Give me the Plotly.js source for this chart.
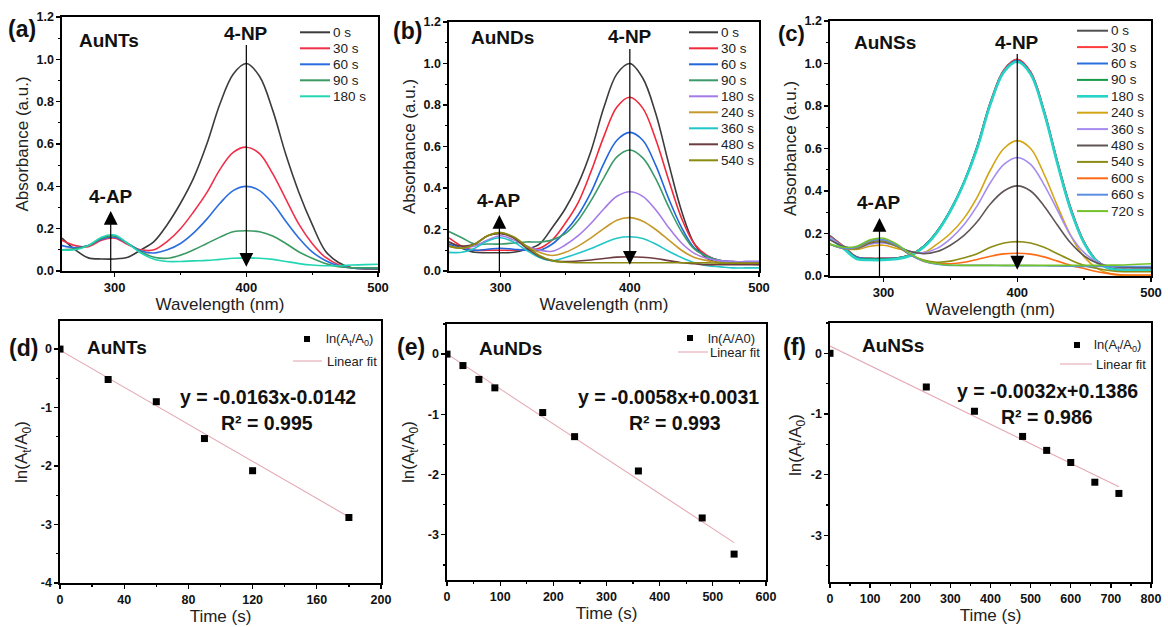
<!DOCTYPE html>
<html><head><meta charset="utf-8">
<script src="https://cdn.plot.ly/plotly-3.0.1.min.js"></script>
<style>html,body{margin:0;padding:0;background:#fff}#chart{width:1168px;height:627px}</style>
</head><body><div id="chart"></div>
<script>
// ---------- DATA ----------
const wavelength = [260,270,280,290,300,310,320,330,340,350,360,370,380,390,400,410,420,430,440,450,460,470,480,490,500];

// (a) AuNTs
const aLabels = ['0 s','30 s','60 s','90 s','180 s'];
const aColors = ['#3c3c3c','#f0304a','#2b6de0','#3a9a62','#22d6b4'];
const a_0s   = [0.155,0.10,0.062,0.057,0.057,0.065,0.10,0.14,0.22,0.32,0.44,0.60,0.79,0.93,0.98,0.92,0.76,0.55,0.37,0.22,0.095,0.04,0.015,0.01,0.01];
const a_30s  = [0.145,0.12,0.115,0.145,0.155,0.125,0.10,0.10,0.14,0.20,0.28,0.37,0.48,0.56,0.585,0.555,0.46,0.34,0.22,0.13,0.065,0.03,0.015,0.012,0.012];
const a_60s  = [0.12,0.11,0.12,0.15,0.16,0.13,0.095,0.085,0.10,0.13,0.18,0.245,0.32,0.38,0.40,0.38,0.32,0.235,0.155,0.09,0.05,0.025,0.015,0.012,0.012];
const a_90s  = [0.10,0.105,0.12,0.155,0.165,0.13,0.09,0.065,0.06,0.075,0.10,0.13,0.16,0.185,0.19,0.185,0.165,0.13,0.09,0.06,0.035,0.02,0.015,0.015,0.015];
const a_180s = [0.10,0.10,0.12,0.16,0.17,0.13,0.085,0.055,0.045,0.045,0.048,0.05,0.055,0.06,0.062,0.06,0.055,0.045,0.035,0.028,0.025,0.025,0.028,0.03,0.032];

// (b) AuNDs
const bLabels = ['0 s','30 s','60 s','90 s','180 s','240 s','360 s','480 s','540 s'];
const bColors = ['#3c3c3c','#f02a3a','#2266dd','#3a9a6a','#a57be8','#c69a2a','#20c6c8','#6e3c40','#8a8a10'];
const b_0s   = [0.14,0.11,0.09,0.088,0.088,0.09,0.105,0.13,0.21,0.30,0.42,0.58,0.79,0.95,1.0,0.93,0.76,0.52,0.29,0.13,0.06,0.04,0.035,0.035,0.035];
const b_30s  = [0.16,0.12,0.10,0.10,0.10,0.10,0.105,0.11,0.15,0.23,0.33,0.48,0.65,0.79,0.837,0.785,0.635,0.44,0.255,0.13,0.074,0.05,0.045,0.04,0.04];
const b_60s  = [0.13,0.11,0.10,0.105,0.11,0.105,0.10,0.10,0.13,0.19,0.27,0.38,0.52,0.63,0.668,0.63,0.51,0.35,0.21,0.11,0.07,0.05,0.045,0.045,0.045];
const b_90s  = [0.19,0.16,0.13,0.13,0.13,0.135,0.14,0.14,0.15,0.18,0.245,0.34,0.45,0.55,0.583,0.545,0.445,0.31,0.19,0.105,0.07,0.05,0.04,0.035,0.03];
const b_180s = [0.12,0.11,0.12,0.15,0.17,0.15,0.12,0.10,0.095,0.125,0.17,0.23,0.30,0.36,0.382,0.36,0.295,0.21,0.135,0.085,0.06,0.05,0.045,0.045,0.045];
const b_240s = [0.12,0.11,0.13,0.17,0.185,0.16,0.12,0.09,0.075,0.09,0.12,0.16,0.205,0.245,0.257,0.24,0.20,0.15,0.10,0.065,0.05,0.04,0.035,0.035,0.035];
const b_360s = [0.09,0.09,0.11,0.145,0.16,0.14,0.10,0.065,0.05,0.065,0.085,0.108,0.135,0.158,0.165,0.157,0.13,0.095,0.065,0.04,0.025,0.02,0.015,0.015,0.015];
const b_480s = [0.14,0.12,0.13,0.17,0.18,0.16,0.11,0.07,0.05,0.045,0.048,0.053,0.06,0.067,0.069,0.066,0.06,0.05,0.04,0.035,0.03,0.03,0.03,0.03,0.03];
const b_540s = [0.12,0.11,0.13,0.17,0.185,0.165,0.12,0.075,0.05,0.042,0.04,0.04,0.04,0.04,0.04,0.04,0.04,0.04,0.04,0.04,0.039,0.038,0.038,0.038,0.038];

// (c) AuNSs
const cLabels = ['0 s','30 s','60 s','90 s','180 s','240 s','360 s','480 s','540 s','600 s','660 s','720 s'];
const cColors = ['#505050','#ff3b3b','#2a6fe0','#149a48','#26d3c6','#d2a514','#a58cf0','#5f5555','#8c8c14','#ff6a14','#5a8fe0','#74c22a'];
const c_0s   = [0.19,0.14,0.09,0.083,0.083,0.085,0.10,0.14,0.21,0.31,0.44,0.61,0.82,0.97,1.02,0.96,0.78,0.54,0.32,0.16,0.07,0.035,0.03,0.03,0.03];
const c_30s  = [0.185,0.14,0.09,0.083,0.083,0.085,0.10,0.14,0.21,0.31,0.44,0.61,0.82,0.97,1.02,0.96,0.78,0.54,0.32,0.16,0.07,0.035,0.032,0.033,0.035];
const c_60s  = [0.18,0.135,0.088,0.082,0.082,0.084,0.10,0.14,0.21,0.31,0.44,0.61,0.815,0.965,1.015,0.955,0.775,0.535,0.315,0.155,0.068,0.035,0.03,0.03,0.03];
const c_90s  = [0.18,0.135,0.085,0.08,0.08,0.083,0.10,0.14,0.21,0.31,0.44,0.605,0.81,0.96,1.01,0.95,0.77,0.53,0.31,0.155,0.068,0.035,0.03,0.03,0.03];
const c_180s = [0.18,0.13,0.08,0.075,0.075,0.08,0.095,0.135,0.205,0.305,0.435,0.60,0.81,0.96,1.008,0.95,0.77,0.53,0.31,0.155,0.066,0.033,0.028,0.028,0.028];
const c_240s = [0.15,0.13,0.125,0.14,0.145,0.13,0.115,0.11,0.15,0.20,0.27,0.37,0.50,0.60,0.637,0.60,0.48,0.33,0.19,0.09,0.035,0.01,0.003,0.002,0.002];
const c_360s = [0.18,0.14,0.13,0.15,0.155,0.14,0.115,0.11,0.13,0.175,0.24,0.33,0.44,0.525,0.558,0.525,0.43,0.31,0.19,0.11,0.065,0.045,0.04,0.04,0.04];
const c_480s = [0.17,0.14,0.13,0.155,0.16,0.14,0.115,0.105,0.115,0.145,0.19,0.255,0.34,0.40,0.424,0.40,0.33,0.24,0.155,0.095,0.06,0.045,0.04,0.04,0.04];
const c_540s = [0.15,0.13,0.13,0.16,0.165,0.14,0.10,0.075,0.065,0.07,0.085,0.105,0.135,0.155,0.162,0.155,0.135,0.105,0.075,0.05,0.035,0.025,0.02,0.02,0.02];
const c_600s = [0.15,0.13,0.135,0.165,0.17,0.145,0.10,0.07,0.058,0.058,0.065,0.078,0.093,0.104,0.107,0.103,0.09,0.07,0.05,0.035,0.02,0.01,0.005,0.005,0.005];
const c_660s = [0.15,0.13,0.135,0.165,0.17,0.145,0.10,0.07,0.055,0.05,0.05,0.05,0.05,0.049,0.049,0.049,0.048,0.047,0.046,0.045,0.045,0.045,0.045,0.045,0.045];
const c_720s = [0.15,0.135,0.14,0.17,0.178,0.15,0.105,0.072,0.058,0.052,0.05,0.05,0.05,0.05,0.05,0.05,0.05,0.05,0.05,0.05,0.05,0.051,0.052,0.055,0.058];

// (d) AuNTs kinetics
const dTime = [0,30,60,90,120,180];
const dLn   = [0,-0.52,-0.90,-1.53,-2.08,-2.88];
const dFitX = [0,180];
const dFitY = [-0.02,-2.87];
// (e) AuNDs kinetics
const eTime = [0,30,60,90,180,240,360,480,540];
const eLn   = [0,-0.19,-0.42,-0.56,-0.97,-1.37,-1.94,-2.72,-3.32];
const eFitX = [0,540];
const eFitY = [0.003,-3.13];
// (f) AuNSs kinetics
const fTime = [0,240,360,480,540,600,660,720];
const fLn   = [0,-0.555,-0.955,-1.37,-1.60,-1.80,-2.125,-2.31];
const fFitX = [0,720];
const fFitY = [0.12,-2.2];

const lnTickVals = [0,-1,-2,-3,-4];
const lnTickText = ['0','-1','-2','-3','-4'];

// ---------- BUILD ----------
const W = 1168, H = 627;
const px = v => v / W;
const py = v => 1 - v / H;
const FONT = 'Liberation Sans, Arial, sans-serif';
const FIT = '#e4aab3';

const traces = [];
function addSpectra(series, labels, colors, ax, thick) {
  series.forEach((s, i) => {
    traces.push({
      type: 'scatter', mode: 'lines', x: wavelength, y: s, name: labels[i],
      xaxis: 'x' + ax, yaxis: 'y' + ax, showlegend: false,
      line: {color: colors[i], width: (thick && thick[i]) ? thick[i] : 1.6, shape: 'spline', smoothing: 1}
    });
  });
}
addSpectra([a_0s,a_30s,a_60s,a_90s,a_180s], aLabels, aColors, '');
addSpectra([b_0s,b_30s,b_60s,b_90s,b_180s,b_240s,b_360s,b_480s,b_540s], bLabels, bColors, '2');
addSpectra([c_0s,c_30s,c_60s,c_90s,c_180s,c_240s,c_360s,c_480s,c_540s,c_600s,c_660s,c_720s], cLabels, cColors, '3', [0,0,0,0,2.6]);

function addKinetics(t, v, fx, fy, ax) {
  traces.push({type:'scatter', mode:'lines', x: fx, y: fy, xaxis:'x'+ax, yaxis:'y'+ax, showlegend:false,
    line:{color: FIT, width:1.1}});
  traces.push({type:'scatter', mode:'markers', x: t, y: v, xaxis:'x'+ax, yaxis:'y'+ax, showlegend:false,
    marker:{symbol:'square', size:7, color:'#000'}});
}
addKinetics(dTime, dLn, dFitX, dFitY, '4');
addKinetics(eTime, eLn, eFitX, eFitY, '5');
addKinetics(fTime, fLn, fFitX, fFitY, '6');

const tickFont = {family: FONT, size: 13, color: '#111', weight: 'bold'};
const tickFontB = {family: FONT, size: 12.5, color: '#111', weight: 'bold'};
const titleFont = {family: FONT, size: 17, color: '#222'};
const minorW = {tickvals:[350,450], ticks:'outside', ticklen:2.5, tickcolor:'#000'};
function ax(dom, anchor, range, extra) {
  return Object.assign({domain: dom, anchor: anchor, range: range, showline: true, mirror: true,
    linecolor: '#000', linewidth: 1.6, ticks: 'outside', ticklen: 4, tickwidth: 1.3, tickcolor: '#000',
    showgrid: false, zeroline: false, tickfont: tickFont}, extra);
}
function absY(dom, anchor) {
  return ax(dom, anchor, [0, 1.2], {dtick:0.2, tickformat:'.1f', tickfont: {family: FONT, size: 12.5, color:'#111', weight:'bold'},
    minor:{dtick:0.1, ticks:'outside', ticklen:2.5, tickcolor:'#000'},
    title:{text:'Absorbance (a.u.)', font: titleFont, standoff: 3}});
}
function wlX(dom, anchor) {
  return ax(dom, anchor, [260, 500], {tickvals:[300,400,500], minor: minorW,
    title:{text:'Wavelength (nm)', font: titleFont, standoff: 1}});
}
function timeX(dom, anchor, range, dt) {
  return ax(dom, anchor, range, {dtick: dt, tickfont: tickFontB, minor:{dtick: dt/2, ticks:'outside', ticklen:2.5, tickcolor:'#000'},
    title:{text:'Time (s)', font: titleFont, standoff: 1}});
}
function lnY(dom, anchor, range) {
  return ax(dom, anchor, range, {tickvals: lnTickVals, ticktext: lnTickText, tickfont: tickFontB,
    minor:{dtick:0.5, ticks:'outside', ticklen:2.5, tickcolor:'#000'}});
}
const layout = {
  width: W, height: H, margin: {l: 0, r: 0, t: 0, b: 0},
  paper_bgcolor: '#fff', plot_bgcolor: '#fff', showlegend: false,
  font: {family: FONT},
  xaxis:  wlX([px(62), px(378)], 'y'),
  yaxis:  absY([py(271), py(17)], 'x'),
  xaxis2: wlX([px(449), px(759)], 'y2'),
  yaxis2: absY([py(271), py(22)], 'x2'),
  xaxis3: wlX([px(830), px(1151)], 'y3'),
  yaxis3: absY([py(276), py(21)], 'x3'),
  xaxis4: timeX([px(60), px(381)], 'y4', [0, 200], 40),
  yaxis4: lnY([py(583), py(321)], 'x4', [-4, 0.48]),
  xaxis5: timeX([px(447), px(766)], 'y5', [0, 600], 100),
  yaxis5: lnY([py(580), py(324)], 'x5', [-3.75, 0.5]),
  xaxis6: timeX([px(830), px(1151)], 'y6', [0, 800], 100),
  yaxis6: lnY([py(582), py(323)], 'x6', [-3.77, 0.5]),
  shapes: [], annotations: []
};

const ann = layout.annotations, shp = layout.shapes;
function txt(x, y, text, size, bold, anchor, angle) {
  ann.push({xref:'paper', yref:'paper', x: px(x), y: py(y), text: text, showarrow: false,
    xanchor: anchor || 'center', yanchor: 'middle', textangle: angle || 0,
    font: {family: FONT, size: size, color: bold ? '#111' : '#222', weight: bold ? 'bold' : 'normal'}});
}
// y titles of the kinetics panels
txt(23, 452, 'ln(A<sub>t</sub>/A<sub>0</sub>)', 17, false, 'center', -90);
txt(410, 452, 'ln(A<sub>t</sub>/A<sub>0</sub>)', 17, false, 'center', -90);
txt(797, 445, 'ln(A<sub>t</sub>/A<sub>0</sub>)', 17, false, 'center', -90);

// custom legends
function legend(labels, colors, x0, x1, xt, y0, step, widths) {
  labels.forEach((lab, i) => {
    const y = y0 + i * step;
    shp.push({type:'line', xref:'paper', yref:'paper', x0: px(x0), x1: px(x1), y0: py(y), y1: py(y),
      line: {color: colors[i], width: (widths && widths[i]) ? widths[i] : 2}});
    txt(xt, y, lab, 13.5, false, 'left');
  });
}
legend(aLabels, aColors, 300, 330, 331, 32.3, 16);
legend(bLabels, bColors, 689, 718, 719, 32.3, 16);
legend(cLabels, cColors, 1077, 1108, 1109, 30.7, 16.4, [0,0,0,0,2.6]);

function kinLegend(mx, my, tx, txt1, lx0, lx1, ly, ltx) {
  shp.push({type:'rect', xref:'paper', yref:'paper', x0: px(mx-3), x1: px(mx+3), y0: py(my+3), y1: py(my-3),
    fillcolor:'#000', line:{width:0}});
  txt(tx, my, txt1, 13, false, 'left');
  shp.push({type:'line', xref:'paper', yref:'paper', x0: px(lx0), x1: px(lx1), y0: py(ly), y1: py(ly),
    line:{color: FIT, width:1.1}});
  txt(ltx, ly, 'Linear fit', 13, false, 'left');
}
kinLegend(307, 339, 324, 'ln(A<sub>t</sub>/A<sub>0</sub>)', 293, 322, 361, 325);
kinLegend(690, 338, 706, 'ln(A/A0)', 678, 708, 352, 708);
kinLegend(1077, 345, 1092, 'ln(A<sub>t</sub>/A<sub>0</sub>)', 1060, 1092, 364, 1094);

// panel letters & names
txt(22, 29, '(a)', 23, true); txt(407, 31, '(b)', 23, true); txt(791, 34, '(c)', 22, true);
txt(23, 348, '(d)', 23, true); txt(411, 347, '(e)', 23, true); txt(794, 347, '(f)', 23, true);
txt(109, 40, 'AuNTs', 19, true); txt(503, 38, 'AuNDs', 19, true); txt(885, 43, 'AuNSs', 19, true);
txt(117, 347, 'AuNTs', 19, true); txt(510, 348, 'AuNDs', 19, true); txt(893, 345, 'AuNSs', 19, true);
// equations
txt(268, 397, 'y = -0.0163x-0.0142', 19.5, true); txt(267, 423, 'R² = 0.995', 19.5, true);
txt(668, 397, 'y = -0.0058x+0.0031', 19.5, true); txt(675, 423, 'R² = 0.993', 19.5, true);
txt(1047, 391, 'y = -0.0032x+0.1386', 19.5, true); txt(1047, 417, 'R² = 0.986', 19.5, true);

// labelled arrows: 4-NP (down) and 4-AP (up)
const labFont = {family: FONT, size: 19, color: '#111', weight: 'bold'};
function npArrow(a, x, yText, yHead) {
  ann.push({xref:'x'+a, yref:'y'+a, axref:'x'+a, ayref:'y'+a, x: x, y: yHead, ax: x, ay: yText,
    text:'4-NP', font: labFont, showarrow:true, arrowhead:2, arrowsize:2.3, arrowwidth:1.2, arrowcolor:'#000', standoff: 0});
}
function apArrow(a, x, yText) {
  ann.push({xref:'x'+a, yref:'y'+a, axref:'x'+a, ayref:'y'+a, x: x, y: 0, ax: x, ay: yText,
    text:'4-AP', font: labFont, showarrow:true, arrowside:'start', startarrowhead:2, startarrowsize:2.3,
    arrowwidth:1.2, arrowcolor:'#000', startstandoff: 3});
}
npArrow('', 400, 1.124, 0.02);  apArrow('', 297, 0.354);
npArrow('2', 400, 1.128, 0.03); apArrow('2', 299, 0.342);
npArrow('3', 400, 1.101, 0.03); apArrow('3', 297, 0.344);

Plotly.newPlot('chart', traces, layout, {staticPlot: true, displayModeBar: false});
</script></body></html>
